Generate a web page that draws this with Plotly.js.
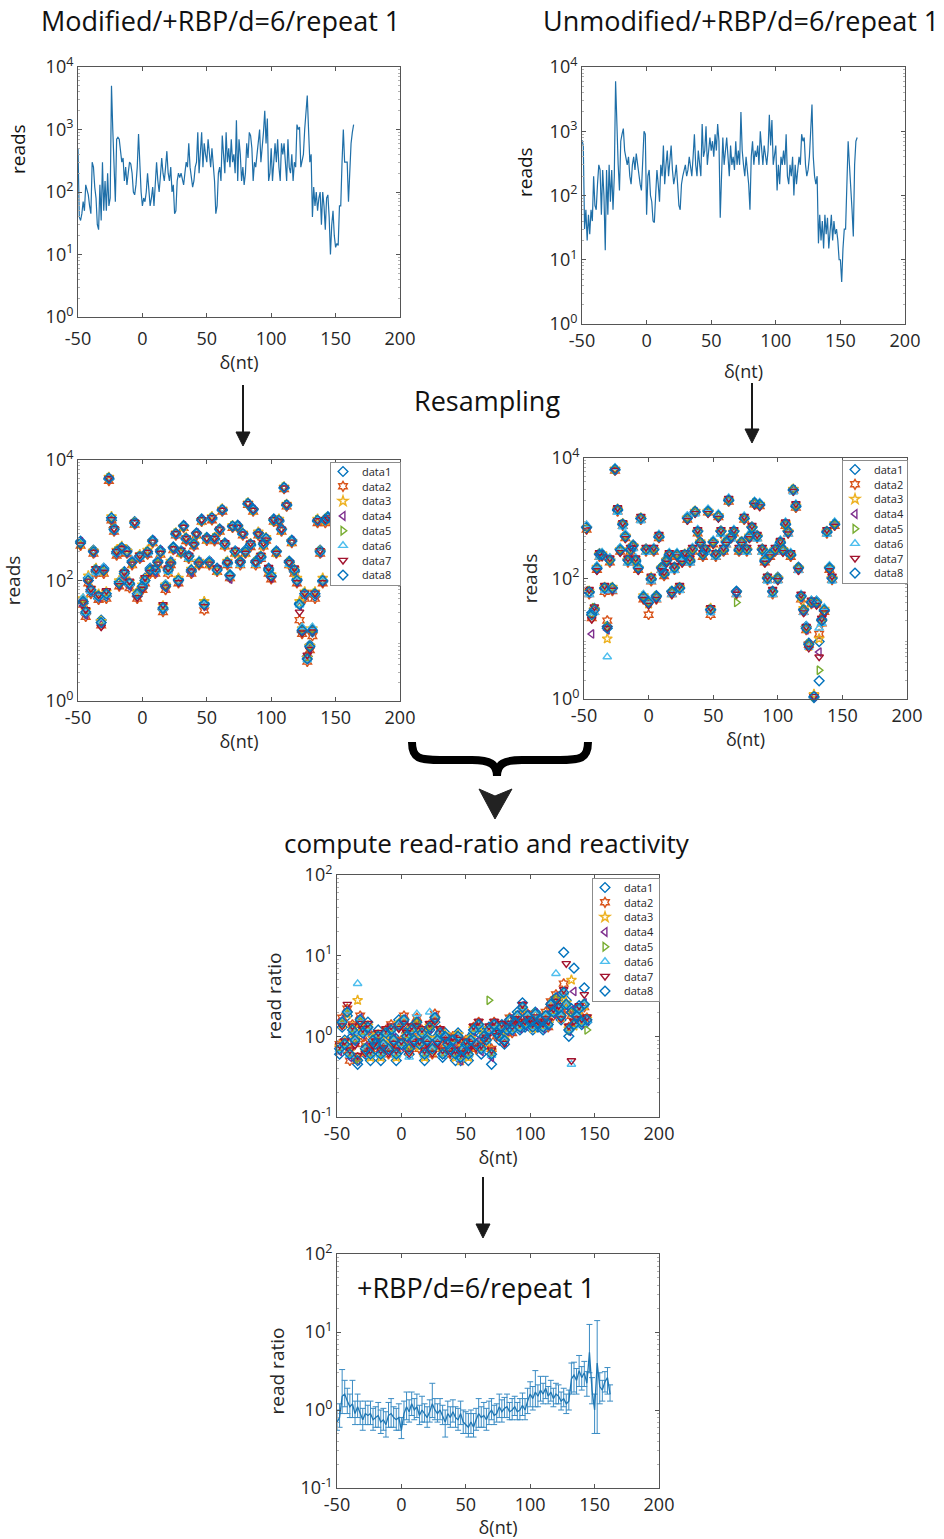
<!DOCTYPE html>
<html><head><meta charset="utf-8">
<script src="https://cdn.plot.ly/plotly-3.0.1.min.js"></script>
<style>html,body{margin:0;padding:0;background:#fff}#chart{width:944px;height:1539px}</style>
</head><body><div id="chart"></div>
<script>
// ---------------- DATA ----------------
const xNt = [-50,-49,-48,-47,-46,-45,-44,-43,-42,-41,-40,-39,-38,-37,-36,-35,-34,-33,-32,-31,-30,-29,-28,-27,-26,-25,-24,-23,-22,-21,-20,-19,-18,-17,-16,-15,-14,-13,-12,-11,-10,-9,-8,-7,-6,-5,-4,-3,-2,-1,0,1,2,3,4,5,6,7,8,9,10,11,12,13,14,15,16,17,18,19,20,21,22,23,24,25,26,27,28,29,30,31,32,33,34,35,36,37,38,39,40,41,42,43,44,45,46,47,48,49,50,51,52,53,54,55,56,57,58,59,60,61,62,63,64,65,66,67,68,69,70,71,72,73,74,75,76,77,78,79,80,81,82,83,84,85,86,87,88,89,90,91,92,93,94,95,96,97,98,99,100,101,102,103,104,105,106,107,108,109,110,111,112,113,114,115,116,117,118,119,120,121,122,123,124,125,126,127,128,129,130,131,132,133,134,135,136,137,138,139,140,141,142,143,144,145,146,147,148,149,150,151,152,153,154,155,156,157,158,159,160,161,162,163,164];

const modifiedReads = [500,40,35,45,70,50,130,110,90,60,45,300,250,120,80,30,25,130,35,300,50,150,50,200,60,80,5000,1000,200,70,700,750,700,400,300,350,150,250,130,200,300,280,200,100,90,130,250,850,200,100,60,80,70,100,200,90,60,80,120,60,150,300,150,100,180,350,200,150,250,450,200,150,250,100,130,45,50,150,200,170,200,150,130,200,300,250,600,250,180,120,150,250,300,900,200,500,900,250,600,400,300,700,400,250,500,300,150,45,60,200,250,150,800,400,200,900,300,500,250,700,300,400,200,1400,150,700,400,150,250,130,200,600,350,900,800,500,150,300,250,400,600,1000,300,500,900,2000,600,1500,150,200,500,150,400,600,300,700,250,150,600,400,600,300,150,700,250,200,400,150,300,250,1200,1000,1100,250,300,400,1000,2000,3500,1000,300,400,40,120,60,100,50,80,100,30,100,60,25,80,90,40,10,30,50,20,13,15,14,60,60,300,1000,300,300,300,70,300,600,900,1200];

const unmodifiedReads = [730,600,30,60,20,50,25,60,40,200,70,60,150,300,250,50,250,100,14,250,50,300,80,250,60,200,6000,800,300,120,700,900,1100,500,400,300,400,200,150,300,400,250,450,300,200,150,120,300,1000,900,50,200,250,100,80,40,38,100,250,150,80,300,200,600,150,300,500,200,350,600,250,150,200,300,150,70,60,150,200,250,300,200,250,400,300,200,400,900,300,200,500,300,200,1300,400,500,1200,300,600,800,500,700,400,900,500,1300,700,45,200,800,300,500,800,400,200,600,300,400,250,700,300,500,300,2000,500,300,200,400,250,150,60,400,700,300,500,400,600,300,1000,500,300,600,400,300,500,1800,600,1500,300,400,600,120,300,150,400,300,500,300,900,200,150,300,200,400,100,300,150,250,400,300,900,700,800,300,200,250,400,1000,2600,400,200,150,200,18,50,20,40,15,50,25,45,15,30,50,20,40,25,30,20,10,10,4.5,15,30,30,200,700,300,150,60,23,300,700,800];

const xResampled = [-48,-46,-44,-42,-40,-38,-36,-34,-32,-30,-28,-26,-24,-22,-20,-18,-16,-14,-12,-10,-8,-6,-4,-2,0,2,4,6,8,10,12,14,16,18,20,22,24,26,28,30,32,34,36,38,40,42,44,46,48,50,52,54,56,58,60,62,64,66,68,70,72,74,76,78,80,82,84,86,88,90,92,94,96,98,100,102,104,106,108,110,112,114,116,118,120,122,124,126,128,130,132,134,136,138,140,142,144];

// resampled modified reads (data1..data8)
const modRes1 = [450,42,28,110,65,320,140,50,22,160,55,4800,1000,750,280,95,330,140,320,85,210,950,55,260,75,110,280,160,470,140,210,320,33,85,160,190,360,580,105,310,820,480,260,140,420,620,190,1050,42,520,210,1050,480,160,720,1450,420,190,125,780,310,830,210,580,320,1850,380,1550,210,620,240,420,480,160,115,1050,310,950,720,3400,1750,210,470,140,105,42,14,55,5.5,8.5,14,55,950,320,95,1050,1150];
const modRes2 = [380,40,25,90,60,280,130,48,18,130,50,4500,1000,650,260,80,300,120,280,75,180,850,50,230,70,90,270,130,420,130,180,270,30,70,130,180,320,560,90,280,750,450,230,130,370,560,180,950,32,460,180,1000,450,140,650,1400,370,180,110,750,280,750,180,560,280,1800,360,1400,180,560,230,370,460,130,105,950,280,900,650,3300,1700,180,420,130,90,22,13,50,4.5,7,12,50,900,280,90,900,1000];
const modRes3 = [400,50,32,120,75,310,160,60,21,140,65,5200,1150,720,320,100,370,125,310,95,190,920,65,270,85,105,320,145,440,160,190,290,38,85,145,210,340,620,110,290,780,520,240,155,410,580,210,980,45,480,190,1150,520,145,680,1550,390,210,115,820,290,780,190,620,290,1950,410,1450,190,640,260,390,520,145,125,980,290,1050,680,3600,1850,190,440,155,110,45,16,65,5.2,8.2,16,65,1050,310,110,980,1050];
const modRes4 = [440,38,27,95,68,290,145,52,19,155,58,4900,1050,680,290,85,340,115,290,80,205,880,58,240,78,95,290,155,460,135,205,310,36,75,155,205,330,590,95,305,810,490,255,135,390,610,205,1020,38,490,205,1080,490,155,690,1480,410,195,105,790,305,810,195,590,305,1880,390,1520,195,610,245,410,490,150,110,1020,305,980,690,3450,1780,195,460,145,95,38,15,58,5,7.5,15,58,980,290,100,1020,1080];
const modRes5 = [410,48,31,105,72,305,155,57,21,145,62,5100,1080,710,310,92,355,135,305,92,195,910,62,255,82,102,305,148,455,155,195,305,37,82,148,195,345,610,102,295,790,510,245,148,405,590,195,990,41,505,195,1120,510,148,710,1520,405,205,122,810,295,795,205,610,295,1920,405,1480,205,590,255,405,505,155,118,990,295,1020,710,3550,1820,205,455,148,102,41,15.5,62,5.1,7.8,15.5,62,1020,305,102,1010,1120];
const modRes6 = [430,52,29,115,66,315,135,53,20,165,57,5050,1120,690,285,98,365,128,295,88,215,890,57,245,88,98,285,162,445,145,215,295,34,88,142,215,355,575,98,315,805,495,235,152,425,605,215,1010,39,495,215,1090,495,152,705,1530,395,185,118,805,315,805,185,605,315,1870,395,1530,185,605,235,395,495,152,122,1010,315,1010,705,3500,1790,185,445,152,98,39,17,60,4.8,8.4,17,60,1010,295,98,1010,1090];
const modRes7 = [390,44,33,98,74,295,158,58,17,138,68,4950,1030,730,305,82,345,138,285,98,188,930,52,265,72,112,295,138,435,162,188,285,40,78,162,188,338,605,92,320,770,505,265,145,395,595,188,1030,37,510,188,1110,505,162,715,1470,425,200,112,770,320,770,200,595,285,1900,420,1470,200,595,265,425,470,165,108,1030,285,970,715,3450,1800,200,435,162,92,30,13.5,62,5.8,7.2,14,62,990,315,92,1030,1100];
const modRes8 = [420,45,30,100,70,300,150,55,20,150,60,5000,1100,700,300,90,350,130,300,90,200,900,60,250,80,100,300,150,450,150,200,300,35,80,150,200,350,600,100,300,800,500,250,150,400,600,200,1000,40,500,200,1100,500,150,700,1500,400,200,120,800,300,800,200,600,300,1900,400,1500,200,600,250,400,500,150,120,1000,300,1000,700,3500,1800,200,450,150,100,40,15,60,5,8,15,60,1000,300,100,1000,1100];

// resampled unmodified reads (data1..data8)
const unmodRes1 = [720,58,27,32,145,260,240,68,16,210,68,6300,1350,310,780,520,210,290,360,190,155,980,48,310,42,95,310,52,480,155,115,210,240,62,155,240,68,210,240,1050,190,310,1250,620,390,260,290,1350,31,410,240,1050,620,290,420,1950,480,620,62,290,410,980,310,480,720,1750,520,1650,310,190,105,240,62,290,105,390,310,780,620,240,2900,1550,155,52,31,16,8.5,42,1.05,42,9,21,29,580,155,105,780];
const unmodRes2 = [650,55,22,28,140,230,235,60,20,185,62,6200,1300,280,750,470,185,280,330,185,140,950,45,280,25,90,280,45,470,140,110,190,230,55,140,230,65,185,230,950,185,280,1250,560,370,230,280,1250,25,370,230,1050,560,280,370,1900,470,560,55,280,370,950,280,470,650,1700,470,1600,280,185,95,230,55,280,95,370,280,750,560,230,2900,1500,140,45,28,14,8,38,1.1,38,12,18,28,560,140,95,750];
const unmodRes3 = [680,62,24,31,155,255,260,72,10,205,72,6600,1420,305,820,510,205,305,355,205,150,1020,52,305,38,105,305,48,510,150,125,205,255,58,150,255,72,205,255,1020,205,305,1320,610,410,255,305,1320,32,410,255,1120,610,305,410,2050,510,610,58,305,410,1020,305,510,710,1820,510,1720,305,205,102,255,58,305,102,410,305,820,610,255,3050,1620,150,48,32,15,7.5,41,1.2,41,10,19,31,610,150,102,820];
const unmodRes4 = [710,57,12,29,148,245,248,66,14,195,66,6400,1380,295,790,490,195,295,345,195,148,990,49,295,39,98,295,49,490,148,118,195,245,59,148,245,69,195,245,990,195,295,1290,590,395,245,295,1290,29,395,245,1090,590,295,395,1980,490,590,59,295,395,990,295,490,690,1780,490,1680,295,195,98,245,59,295,98,395,295,790,590,245,2980,1580,148,49,29,14,8,39,1.1,39,6,20,28,590,148,98,790];
const unmodRes5 = [690,63,26,33,152,252,255,71,16,198,71,6450,1390,302,805,505,198,302,352,198,152,1005,51,302,41,102,302,51,505,152,122,198,252,61,152,252,71,198,252,1005,198,302,1305,605,405,252,302,1305,31,405,252,1105,605,302,405,2010,505,605,40,302,405,1005,302,505,705,1810,505,1710,302,198,102,252,61,302,102,405,302,805,605,252,3020,1610,152,51,31,15,8.2,41,1.1,41,3,21,31,605,152,102,805];
const unmodRes6 = [780,54,27,27,165,225,275,63,5,225,63,7000,1250,330,720,550,180,330,310,225,165,900,55,270,44,90,330,45,550,135,135,180,275,54,135,275,63,220,225,1100,180,330,1170,660,360,275,270,1430,27,440,225,1200,540,330,360,2200,450,660,54,330,360,1100,270,550,630,1950,450,1850,270,220,90,275,54,330,90,440,270,880,540,275,2700,1750,135,55,27,16.5,7.2,44,1.1,44,15,18,33,540,165,90,880];
const unmodRes7 = [640,66,21,34,135,270,230,77,15,220,64,6300,1500,270,850,460,220,330,320,220,135,1080,45,330,36,110,330,45,540,135,130,180,270,54,165,230,77,180,270,920,220,330,1200,650,370,270,330,1200,33,370,270,1000,650,330,370,2150,460,650,55,330,370,1080,330,460,760,1650,540,1550,330,180,110,230,66,330,92,430,270,870,550,270,2800,1750,135,55,27,16,7,44,1.1,36,5,22,27,650,135,110,740];
const unmodRes8 = [700,60,25,30,150,250,250,70,15,200,70,6500,1400,300,800,500,200,300,350,200,150,1000,50,300,40,100,300,50,500,150,120,200,250,60,150,250,70,200,250,1000,200,300,1300,600,400,250,300,1300,30,400,250,1100,600,300,400,2000,500,600,60,300,400,1000,300,500,700,1800,500,1700,300,200,100,250,60,300,100,400,300,800,600,250,3000,1600,150,50,30,15,8,40,1.1,40,2,20,30,600,150,100,800];

// read ratios (data1..data8)
const ratio1 = [0.6,1.3,0.9,1.8,0.7,1.0,1.1,0.45,1.4,1.2,0.6,1.5,0.5,1.0,0.7,1.2,0.5,0.9,1.0,0.8,1.0,1.0,0.5,1.6,0.7,1.4,1.1,0.6,1.3,0.8,1.3,0.9,1.0,0.5,1.0,1.2,0.8,1.5,1.0,1.0,0.55,1.1,0.7,0.8,0.8,0.5,1.1,0.5,0.8,0.7,0.5,1.0,1.1,0.9,1.3,0.6,1.1,0.8,1.3,0.45,1.3,1.2,0.9,1.4,0.8,1.3,1.5,1.3,1.4,2.0,1.2,2.6,1.3,1.6,1.6,1.2,2.0,1.3,1.7,1.2,1.6,1.5,2.3,2.2,2.8,2.4,1.6,11,2.8,1.0,2.2,7,1.6,2.4,1.4,4,1.5];
const ratio2 = [0.8,1.7,0.7,2.2,0.5,1.4,0.8,0.55,1.8,1.0,0.8,1.2,0.7,0.8,0.9,0.9,0.7,0.7,1.2,0.6,1.4,0.8,0.7,1.3,0.9,1.8,0.9,0.8,1.1,1.0,1.7,0.7,1.2,0.7,0.8,1.4,0.6,1.9,0.8,1.2,0.7,0.9,0.9,0.6,1.0,0.7,0.9,0.6,0.6,0.9,0.7,0.8,1.3,0.7,1.5,0.8,0.9,1.0,1.1,0.7,1.5,1.0,1.1,1.2,1.0,1.1,1.7,1.1,1.6,1.7,1.4,2.1,1.5,1.9,1.4,1.4,1.8,1.5,1.5,1.4,2.0,1.3,2.7,1.8,3.3,2.0,2.0,4.5,2.2,1.3,1.8,1.5,2.0,2.0,1.6,2.3,1.7];
const ratio3 = [0.75,1.4,0.85,1.9,0.65,1.3,0.95,2.8,1.5,1.15,0.65,1.35,0.55,0.95,0.75,1.05,0.55,0.85,1.05,0.75,1.25,0.85,0.55,1.45,0.85,1.55,1.05,0.65,1.25,0.95,1.45,0.75,1.15,0.55,0.95,1.35,0.65,1.65,0.95,1.05,0.65,1.05,0.75,0.75,0.95,0.55,1.05,0.5,0.75,0.85,0.55,0.95,1.25,0.75,1.35,0.75,1.05,0.85,1.25,0.65,1.35,1.15,1.05,1.25,0.95,1.25,1.55,1.25,1.45,1.75,1.35,2.2,1.45,1.75,1.55,1.25,1.85,1.45,1.55,1.35,1.75,1.45,2.4,2.1,2.9,2.3,1.7,3.2,2.6,1.25,5,1.35,1.9,2.1,1.55,2.4,1.65];
const ratio4 = [0.65,1.6,0.75,2.1,0.55,1.1,0.85,0.5,1.7,1.05,0.75,1.25,0.65,0.85,0.85,0.95,0.65,0.75,1.15,0.65,1.15,0.95,0.65,1.35,0.75,1.65,0.95,0.75,1.15,0.85,1.55,0.85,1.05,0.65,0.85,1.25,0.75,1.75,0.85,1.15,0.6,0.95,0.85,0.65,0.85,0.65,0.95,0.5,0.65,0.75,0.65,0.85,1.15,0.85,1.45,0.65,0.95,0.95,1.15,0.55,1.45,1.05,0.95,1.35,0.85,1.15,1.65,1.15,1.55,1.85,1.25,2.4,1.35,1.85,1.45,1.35,1.95,1.35,1.65,1.25,1.85,1.35,2.6,1.9,3.1,2.1,1.9,3.6,2.4,1.15,2.1,3.6,1.7,2.3,1.45,2.6,1.55];
const ratio5 = [0.72,1.45,0.82,1.95,0.62,1.25,0.92,0.52,1.55,1.12,0.72,1.32,0.62,0.92,0.82,1.02,0.62,0.82,1.12,0.72,1.22,0.92,0.62,1.42,0.82,1.62,1.02,0.72,1.22,0.92,1.52,0.82,1.12,0.62,0.92,1.32,0.72,1.72,0.92,1.12,0.62,1.02,0.82,0.72,0.92,0.62,1.02,0.57,0.72,0.82,0.62,0.92,1.22,0.82,1.42,0.72,1.02,0.92,2.8,0.62,1.42,1.12,1.02,1.32,0.92,1.22,1.62,1.22,1.52,1.82,1.32,2.3,1.42,1.82,1.52,1.32,1.92,1.42,1.62,1.32,1.82,1.42,2.5,2.0,2.9,2.2,1.8,3.4,2.5,1.2,2.0,1.4,1.8,2.2,1.5,2.5,1.2];
const ratio6 = [0.68,1.55,0.78,2.05,0.58,1.15,0.88,4.5,1.65,1.08,0.68,1.28,0.58,0.88,0.78,0.98,0.58,0.78,1.08,0.68,1.18,0.88,0.58,1.38,0.78,1.58,0.98,0.55,1.18,0.88,1.9,0.78,1.08,0.58,0.88,2.0,0.68,1.68,0.88,1.08,0.58,0.98,0.78,0.68,0.88,0.58,0.98,0.53,0.68,0.78,0.58,0.88,1.18,0.78,1.38,0.68,0.98,0.88,1.18,0.58,1.38,1.08,0.98,1.28,0.88,1.18,1.58,1.18,1.48,1.78,1.28,2.25,1.38,1.78,1.48,1.28,1.88,1.38,1.58,1.28,1.78,1.38,2.5,1.95,6,2.15,1.75,3.4,2.4,1.2,0.45,1.35,1.75,2.15,1.45,2.45,1.55];
const ratio7 = [0.78,1.35,0.88,2.5,0.68,1.35,0.78,0.58,1.45,1.25,0.62,1.45,0.68,0.78,0.88,1.12,0.68,0.72,1.25,0.62,1.35,0.82,0.68,1.25,0.88,1.45,1.12,0.62,1.35,0.82,1.35,0.88,1.25,0.68,0.82,1.45,0.62,1.55,0.82,1.25,0.68,0.92,0.88,0.62,0.98,0.68,0.92,0.62,0.62,0.88,0.68,0.82,1.35,0.72,1.55,0.78,0.92,0.98,1.35,0.68,1.55,1.02,1.12,1.45,0.82,1.35,1.45,1.35,1.65,1.65,1.45,2.5,1.55,1.65,1.65,1.45,1.75,1.55,1.45,1.45,1.65,1.55,2.3,2.2,2.7,2.4,1.65,3.8,8,1.35,0.5,1.55,1.65,2.4,1.65,3.3,1.75];
const ratio8 = [0.7,1.5,0.8,2.0,0.6,1.2,0.9,0.5,1.6,1.1,0.7,1.3,0.6,0.9,0.8,1.0,0.6,0.8,1.1,0.7,1.2,0.9,0.6,1.4,0.8,1.6,1.0,0.7,1.2,0.9,1.5,0.8,1.1,0.6,0.9,1.3,0.7,1.7,0.9,1.1,0.6,1.0,0.8,0.7,0.9,0.6,1.0,0.55,0.7,0.8,0.6,0.9,1.2,0.8,1.4,0.7,1.0,0.9,1.2,0.6,1.4,1.1,1.0,1.3,0.9,1.2,1.6,1.2,1.5,1.8,1.3,2.3,1.4,1.8,1.5,1.3,1.9,1.4,1.6,1.3,1.8,1.4,2.5,2.0,3.0,2.2,1.8,3.5,2.5,1.2,2.0,1.4,1.8,2.2,1.5,2.5,1.6];

// mean read ratio with error bars
const xRatio = [-50,-48,-46,-44,-42,-40,-38,-36,-34,-32,-30,-28,-26,-24,-22,-20,-18,-16,-14,-12,-10,-8,-6,-4,-2,0,2,4,6,8,10,12,14,16,18,20,22,24,26,28,30,32,34,36,38,40,42,44,46,48,50,52,54,56,58,60,62,64,66,68,70,72,74,76,78,80,82,84,86,88,90,92,94,96,98,100,102,104,106,108,110,112,114,116,118,120,122,124,126,128,130,132,134,136,138,140,142,144,146,148,150,152,154,156,158,160,162];
const meanRatio = [0.7,0.8,1.5,1.6,1.3,1.1,1.2,0.9,1.1,0.9,0.75,0.9,0.85,0.9,0.75,0.8,0.85,0.7,0.75,0.65,0.85,0.9,0.8,0.75,0.8,0.55,0.9,1.1,0.95,1.2,1.0,1.1,0.85,1.0,0.9,0.8,0.95,1.2,1.0,0.9,1.0,0.85,0.7,0.9,0.8,0.95,0.8,0.75,0.9,0.7,0.65,0.6,0.7,0.6,0.75,0.9,0.8,0.85,0.75,0.9,1.0,0.85,0.9,1.1,0.95,1.05,1.1,0.95,1.0,1.1,0.95,1.0,1.15,1.0,1.3,1.6,1.4,1.7,1.5,1.8,1.6,1.9,1.5,1.7,1.4,1.6,1.5,1.3,1.4,1.2,1.3,2.5,2.8,2.4,3.2,2.6,3.0,2.2,5.5,1.8,1.0,4.0,2.0,1.8,2.3,2.6,1.6];
const ratioErrUp = [0.3,0.4,1.8,0.8,0.6,0.5,1.2,0.4,0.5,0.4,0.3,0.4,0.3,0.4,0.3,0.3,0.4,0.3,0.3,0.3,0.4,0.5,0.3,0.3,0.4,0.25,0.4,0.6,0.4,0.5,0.4,0.5,0.3,0.5,0.3,0.3,0.4,1.0,0.4,0.3,0.4,0.3,0.3,0.4,0.3,0.4,0.3,0.3,0.4,0.3,0.3,0.3,0.3,0.3,0.3,0.5,0.3,0.4,0.3,0.4,0.4,0.3,0.3,0.5,0.4,0.4,0.5,0.3,0.4,0.4,0.3,0.4,0.5,0.4,0.6,0.7,0.6,1.5,0.6,0.9,0.6,0.8,0.5,0.7,0.5,0.6,0.6,0.4,0.5,0.4,0.5,1.5,1.3,1.0,1.8,1.0,1.2,0.9,7,0.8,0.6,10,1.0,0.6,0.8,0.9,0.5];
const ratioErrDown = [0.15,0.2,0.6,0.5,0.4,0.3,0.4,0.25,0.3,0.25,0.2,0.25,0.2,0.25,0.2,0.2,0.25,0.2,0.2,0.2,0.25,0.3,0.2,0.2,0.25,0.12,0.25,0.35,0.25,0.35,0.25,0.3,0.2,0.3,0.2,0.2,0.25,0.4,0.25,0.2,0.25,0.2,0.25,0.25,0.2,0.25,0.2,0.2,0.25,0.2,0.15,0.15,0.2,0.15,0.2,0.3,0.2,0.25,0.2,0.25,0.25,0.2,0.2,0.3,0.25,0.25,0.3,0.2,0.25,0.25,0.2,0.25,0.3,0.25,0.4,0.5,0.4,0.6,0.4,0.5,0.4,0.5,0.3,0.4,0.3,0.4,0.3,0.3,0.3,0.3,0.3,0.9,1.1,0.8,1.2,0.8,1.0,0.7,2.5,0.6,0.5,3.5,0.8,0.5,0.6,1.0,0.3];

const seriesNames = ['data1','data2','data3','data4','data5','data6','data7','data8'];
const xTickVals = [-50,0,50,100,150,200];
const xTickText = ['-50','0','50','100','150','200'];
const readsTickVals = [1,10,100,1000,10000];
const readsTickText = ['10<sup>0</sup>','10<sup>1</sup>','10<sup>2</sup>','10<sup>3</sup>','10<sup>4</sup>'];
const readsTickValsSparse = [1,100,10000];
const readsTickTextSparse = ['10<sup>0</sup>','10<sup>2</sup>','10<sup>4</sup>'];
const ratioTickVals = [0.1,1,10,100];
const ratioTickText = ['10<sup>-1</sup>','10<sup>0</sup>','10<sup>1</sup>','10<sup>2</sup>'];

// ---------------- STYLE ----------------
const modSeries = [modRes1,modRes2,modRes3,modRes4,modRes5,modRes6,modRes7,modRes8];
const unmodSeries = [unmodRes1,unmodRes2,unmodRes3,unmodRes4,unmodRes5,unmodRes6,unmodRes7,unmodRes8];
const ratioSeries = [ratio1,ratio2,ratio3,ratio4,ratio5,ratio6,ratio7,ratio8];
const colors = ['#0072BD','#D95319','#EDB120','#7E2F8E','#77AC30','#4DBEEE','#A2142F','#0072BD'];
const symbols = ['diamond-open','hexagram-open','star-open','triangle-left-open','triangle-right-open','triangle-up-open','triangle-down-open','diamond-open'];
const W = 944, H = 1539;
const fx = p => p / W, fy = p => 1 - p / H;
const FONT = '"Open Sans", "DejaVu Sans", sans-serif';
const TXT = '#262626', AXC = '#555555';
const LINE = '#1f6fa8';

function minorVals(lo, hi){
  const out = [];
  for (let e = lo; e < hi; e++) for (let m = 2; m <= 9; m++) out.push(m * Math.pow(10, e));
  return out;
}
function xAx(l, r, anchor, standoff, labelGap){
  return {domain:[fx(l), fx(r)], anchor, range:[-50,200], tickmode:'array', tickvals:xTickVals, ticktext:xTickText,
    showline:true, mirror:'ticks', linecolor:AXC, linewidth:1, ticks:'inside', ticklen:4, tickcolor:AXC,
    ticklabelstandoff:labelGap || 0,
    showgrid:false, zeroline:false, automargin:false, fixedrange:true,
    tickfont:{family:FONT, size:18, color:TXT},
    title:{text:'δ(nt)', font:{family:FONT, size:18, color:TXT}, standoff:standoff}};
}
function yAx(top, bottom, anchor, lo, hi, tv, tt, title, standoff){
  const a = {domain:[fy(bottom), fy(top)], anchor, type:'log', range:[lo, hi], tickmode:'array', tickvals:tv, ticktext:tt,
    showline:true, mirror:'ticks', linecolor:AXC, linewidth:1, ticks:'inside', ticklen:4, tickcolor:AXC,
    minor:{tickvals:minorVals(lo, hi), ticks:'inside', ticklen:2, tickcolor:'#b0b0b0'},
    showgrid:false, zeroline:false, automargin:false, fixedrange:true,
    tickfont:{family:FONT, size:18, color:TXT}};
  if (title) a.title = {text:title, font:{family:FONT, size:19, color:TXT}, standoff:standoff};
  return a;
}

const traces = [];
traces.push({x:xNt, y:modifiedReads, xaxis:'x', yaxis:'y', mode:'lines', line:{color:LINE, width:1.2}, showlegend:false});
traces.push({x:xNt.slice(0, unmodifiedReads.length), y:unmodifiedReads, xaxis:'x2', yaxis:'y2', mode:'lines', line:{color:LINE, width:1.2}, showlegend:false});
const groups = [[modSeries,'x3','y3','legend'],[unmodSeries,'x4','y4','legend2'],[ratioSeries,'x5','y5','legend3']];
groups.forEach(([ser, xa, ya, lg]) => {
  ser.forEach((ys, k) => {
    traces.push({x:xResampled, y:ys, xaxis:xa, yaxis:ya, mode:'markers', name:seriesNames[k], legend:lg, cliponaxis:false,
      marker:{symbol:symbols[k], size:7.5, color:colors[k], line:{width:1.4, color:colors[k]}}});
  });
});
traces.push({x:xRatio, y:meanRatio, xaxis:'x6', yaxis:'y6', mode:'lines', showlegend:false, line:{color:'#1f77b4', width:1.3},
  error_y:{type:'data', symmetric:false, array:ratioErrUp, arrayminus:ratioErrDown, color:'#3b8cc4', thickness:1, width:3}});

const legendBase = {bgcolor:'#ffffff', bordercolor:'#8c8c8c', borderwidth:1, font:{family:FONT, size:11, color:TXT},
  xanchor:'right', yanchor:'top', tracegroupgap:0, itemclick:false, itemdoubleclick:false};

function px2(x, y){ return fx(x).toFixed(5) + ',' + fy(y).toFixed(5); }
const brace = 'M' + px2(412,742) + ' C' + px2(412,759) + ' ' + px2(420,760) + ' ' + px2(440,760) + ' L' + px2(472,760) +
  ' C' + px2(490,760) + ' ' + px2(497,764) + ' ' + px2(497,776) + ' C' + px2(497,764) + ' ' + px2(504,760) + ' ' + px2(522,760) +
  ' L' + px2(560,760) + ' C' + px2(580,760) + ' ' + px2(588,759) + ' ' + px2(588,742);
function arrow(x, y0, y1){
  return [
    {type:'line', xref:'paper', yref:'paper', x0:fx(x), x1:fx(x), y0:fy(y0), y1:fy(y1-12), line:{color:'#1a1a1a', width:2}},
    {type:'path', xref:'paper', yref:'paper', path:'M' + px2(x-7, y1-14) + ' L' + px2(x+7, y1-14) + ' L' + px2(x, y1) + ' Z', fillcolor:'#1a1a1a', line:{color:'#1a1a1a', width:1}}
  ];
}
const shapes = [].concat(
  arrow(243, 385, 446), arrow(752, 383, 443), arrow(483, 1177, 1238),
  [{type:'path', xref:'paper', yref:'paper', path:brace, line:{color:'#000', width:8}},
   {type:'path', xref:'paper', yref:'paper', path:'M' + px2(479,789) + ' L' + px2(495,796) + ' L' + px2(512,789) + ' L' + px2(495,819) + ' Z', fillcolor:'#222', line:{color:'#222', width:1}}]
);
function label(text, x, y, size, angle){
  return {text, x:fx(x), y:fy(y), xref:'paper', yref:'paper', showarrow:false, xanchor:'center', yanchor:'middle',
    textangle:angle || 0, font:{family:FONT, size, color:'#111'}};
}
const layout = {
  width:W, height:H, margin:{l:0, r:0, t:0, b:0}, paper_bgcolor:'#fff', plot_bgcolor:'#fff',
  font:{family:FONT, color:TXT},
  xaxis: xAx(78, 400, 'y', 6, 5),   yaxis: yAx(67, 317, 'x', 0, 4, readsTickVals, readsTickText, null),
  xaxis2:xAx(582, 905, 'y2', 14, 0), yaxis2:yAx(67, 324, 'x2', 0, 4, readsTickVals, readsTickText, null),
  xaxis3:xAx(78, 400, 'y3', 0, 0),  yaxis3:yAx(460, 701, 'x3', 0, 4, readsTickValsSparse, readsTickTextSparse, 'reads', 19),
  xaxis4:xAx(584, 907, 'y4', 0, 0), yaxis4:yAx(458, 699, 'x4', 0, 4, readsTickValsSparse, readsTickTextSparse, 'reads', 8),
  xaxis5:xAx(337, 659, 'y5', 2, 0), yaxis5:yAx(875, 1117, 'x5', -1, 2, ratioTickVals, ratioTickText, 'read ratio', 13),
  xaxis6:xAx(337, 659, 'y6', 2, 0), yaxis6:yAx(1254, 1488, 'x6', -1, 2, ratioTickVals, ratioTickText, 'read ratio', 10),
  legend: Object.assign({}, legendBase, {x:fx(400), y:fy(462)}),
  legend2:Object.assign({}, legendBase, {x:fx(907), y:fy(460)}),
  legend3:Object.assign({}, legendBase, {x:fx(659), y:fy(878)}),
  annotations:[
    label('Modified/+RBP/d=6/repeat 1', 220, 20, 27),
    label('Unmodified/+RBP/d=6/repeat 1', 741, 20, 27),
    label('Resampling', 487, 400, 27),
    label('compute read-ratio and reactivity', 487, 843, 26),
    label('+RBP/d=6/repeat 1', 476, 1287, 27),
    label('reads', 18, 149, 19, -90),
    label('reads', 525, 172, 19, -90)
  ],
  shapes
};

// compact MATLAB-like legend boxes (item pitch / key position)
function tightenLegend(cls, left, top, width, step, pad){
  const g = document.querySelector('g.' + cls);
  if (!g) return;
  const items = g.querySelectorAll('g.traces');
  items.forEach((t, i) => {
    t.setAttribute('transform', 'translate(-8,' + (pad + i * step) + ')');
    t.querySelectorAll('path.scatterpts').forEach(p => p.setAttribute('transform', 'translate(21,0)'));
  });
  const bg = g.querySelector('rect.bg');
  if (bg) { bg.setAttribute('width', width); bg.setAttribute('height', pad * 2 + (items.length - 1) * step); }
  g.setAttribute('transform', 'translate(' + left + ',' + top + ')');
}
function fixLegends(){
  try {
    tightenLegend('legend', 330, 462, 70, 14.8, 9.5);
    tightenLegend('legend2', 842, 460, 65, 14.8, 9.5);
    tightenLegend('legend3', 592, 878, 67, 14.8, 9.5);
  } catch (e) {}
}
Plotly.newPlot('chart', traces, layout, {staticPlot:true, displayModeBar:false}).then(() => {
  fixLegends();
  setTimeout(fixLegends, 0);
  setTimeout(fixLegends, 120);
});
</script>
</body></html>
